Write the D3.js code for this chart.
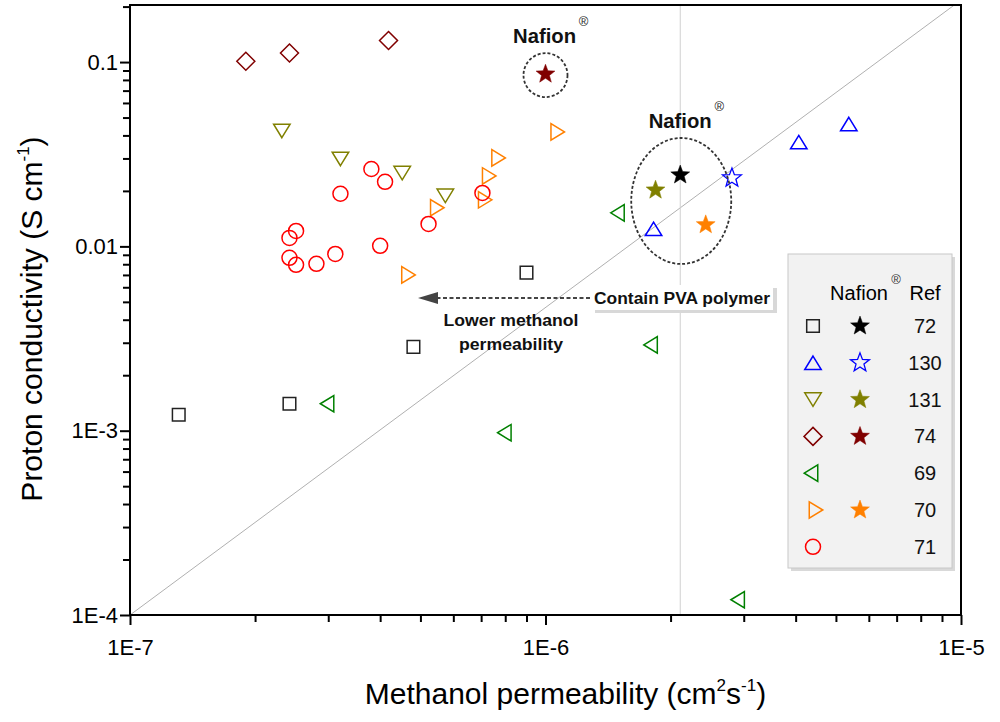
<!DOCTYPE html>
<html>
<head>
<meta charset="utf-8">
<script src="https://cdn.jsdelivr.net/npm/d3@7"></script>
<style>
  body { margin: 0; background: #fff; }
  svg { display: block; }
  text { font-family: "Liberation Sans", Arial, sans-serif; }
</style>
</head>
<body>
<svg id="chart" width="1000" height="722"></svg>
<script>
// ---------- DATA ----------
// [methanol permeability (cm2/s), proton conductivity (S/cm)]
const ref72 = [[1.31e-7, 1.22e-3], [2.42e-7, 1.40e-3], [4.81e-7, 2.85e-3], [9.0e-7, 7.2e-3]];
const ref130 = [[1.82e-6, 0.01245], [4.07e-6, 0.0368], [5.37e-6, 0.0461]];
const ref131 = [[2.32e-7, 0.0423], [3.21e-7, 0.0298], [4.52e-7, 0.0250], [5.74e-7, 0.0188]];
const ref74 = [[1.90e-7, 0.101], [2.42e-7, 0.112], [4.19e-7, 0.131]];
const ref69 = [[2.98e-7, 1.40e-3], [7.96e-7, 9.75e-4], [1.49e-6, 0.0152], [1.79e-6, 2.92e-3], [2.90e-6, 1.21e-4]];
const ref70 = [[4.68e-7, 7.0e-3], [5.49e-7, 0.0162], [7.16e-7, 0.0179], [7.32e-7, 0.0241], [7.71e-7, 0.0302], [1.07e-6, 0.0418]];
const ref71 = [[3.81e-7, 0.0263], [4.11e-7, 0.0224], [3.21e-7, 0.0193], [2.51e-7, 0.01213], [2.42e-7, 0.01112],
               [2.42e-7, 8.67e-3], [2.51e-7, 7.94e-3], [2.81e-7, 8.04e-3], [3.12e-7, 9.1e-3], [4.0e-7, 0.01007],
               [5.23e-7, 0.01324], [7.05e-7, 0.0195]];
// Nafion reference points (stars)
const nafion72 = [2.11e-6, 0.0244];
const nafion130 = [2.81e-6, 0.0235];
const nafion131 = [1.84e-6, 0.0202];
const nafion74 = [1.0e-6, 0.086];
const nafion70 = [2.43e-6, 0.0131];

const legendRefs = ["72", "130", "131", "74", "69", "70", "71"];
const xTickLabels = ["1E-7", "1E-6", "1E-5"];
const yTickLabels = ["1E-4", "1E-3", "0.01", "0.1"];
const xMajor = [1e-7, 1e-6, 1e-5];
const yMajor = [1e-4, 1e-3, 1e-2, 1e-1];
const diagLine = [[1e-7, 1e-4], [1e-5, 0.217]];
const xDomain = [1e-7, 1e-5];
const yDomain = [1e-4, 0.204];

// ---------- SETUP ----------
const svg = d3.select("#chart");
const L = 130, R = 961, T = 5, B = 615;
const x = d3.scaleLog().domain(xDomain).range([L, R]);
const y = d3.scaleLog().domain(yDomain).range([B, T]);

const minorX = [];
[1e-7, 1e-6].forEach(d => { for (let k = 2; k <= 9; k++) minorX.push(d * k); });
const minorY = [];
[1e-4, 1e-3, 1e-2, 1e-1].forEach(d => { for (let k = 2; k <= 9; k++) if (d * k <= yDomain[1]) minorY.push(d * k); });

svg.append("defs").append("clipPath").attr("id", "clip")
  .append("rect").attr("x", L).attr("y", T).attr("width", R - L).attr("height", B - T);

// reference lines
const plot = svg.append("g").attr("clip-path", "url(#clip)");
plot.append("line")
  .attr("x1", x(diagLine[0][0])).attr("y1", y(diagLine[0][1]))
  .attr("x2", x(diagLine[1][0])).attr("y2", y(diagLine[1][1]))
  .attr("stroke", "#b0b0b0").attr("stroke-width", 1);
plot.append("line")
  .attr("x1", x(nafion72[0])).attr("x2", x(nafion72[0]))
  .attr("y1", T).attr("y2", B)
  .attr("stroke", "#d0d0d0").attr("stroke-width", 1);

// ---------- AXES ----------
const axisStyle = g => {
  g.select(".domain").remove();
  g.selectAll(".tick line").attr("stroke", "#000").attr("stroke-width", 2);
};
svg.append("g").attr("transform", `translate(0,${B})`)
  .call(d3.axisBottom(x).tickValues(minorX).tickSize(7).tickFormat(""))
  .call(axisStyle);
svg.append("g").attr("transform", `translate(0,${B})`)
  .call(d3.axisBottom(x).tickValues(xMajor).tickSize(10).tickPadding(14)
    .tickFormat((d, i) => xTickLabels[i]))
  .call(axisStyle)
  .call(g => g.selectAll("text").attr("font-size", 22).attr("fill", "#000"));
svg.append("g").attr("transform", `translate(${L},0)`)
  .call(d3.axisLeft(y).tickValues(minorY).tickSize(7).tickFormat(""))
  .call(axisStyle);
svg.append("g").attr("transform", `translate(${L},0)`)
  .call(d3.axisLeft(y).tickValues(yMajor).tickSize(10).tickPadding(2)
    .tickFormat((d, i) => yTickLabels[i]))
  .call(axisStyle)
  .call(g => g.selectAll("text").attr("font-size", 22).attr("fill", "#000"));

// frame
svg.append("rect").attr("x", L).attr("y", T).attr("width", R - L).attr("height", B - T)
  .attr("fill", "none").attr("stroke", "#000").attr("stroke-width", 2);

// axis titles
const xt = svg.append("text").attr("x", (L + R) / 2 + 20).attr("y", 704).attr("text-anchor", "middle")
  .attr("font-size", 30).attr("fill", "#000");
xt.append("tspan").text("Methanol permeability (cm");
xt.append("tspan").text("2").attr("font-size", 17).attr("dy", -13);
xt.append("tspan").text("s").attr("dy", 13);
xt.append("tspan").text("-1").attr("font-size", 17).attr("dy", -13);
xt.append("tspan").text(")").attr("dy", 13);

const yt = svg.append("text").attr("transform", `translate(42,${(T + B) / 2 + 9}) rotate(-90)`)
  .attr("text-anchor", "middle").attr("font-size", 30).attr("fill", "#000");
yt.append("tspan").text("Proton conductivity (S cm");
yt.append("tspan").text("-1").attr("font-size", 17).attr("dy", -13);
yt.append("tspan").text(")").attr("dy", 13);

// ---------- SYMBOLS ----------
function shapePath(type, s) {
  switch (type) {
    case "square": { const h = s * 0.42; return `M${-h},${-h}H${h}V${h}H${-h}Z`; }
    case "up": { const w = s * 0.55, h = s * 0.45; return `M0,${-h}L${w},${h}L${-w},${h}Z`; }
    case "down": { const w = s * 0.55, h = s * 0.45; return `M0,${h}L${w},${-h}L${-w},${-h}Z`; }
    case "left": { const w = s * 0.55, h = s * 0.45; return `M${-h},0L${h},${-w}L${h},${w}Z`; }
    case "right": { const w = s * 0.55, h = s * 0.45; return `M${h},0L${-h},${-w}L${-h},${w}Z`; }
    case "diamond": { const h = s * 0.6; return `M0,${-h}L${h},0L0,${h}L${-h},0Z`; }
    case "circle": { const r = s * 0.5; return `M${r},0A${r},${r} 0 1,1 ${-r},0A${r},${r} 0 1,1 ${r},0Z`; }
    case "star": {
      const ro = s * 0.62, ri = ro * 0.42; let p = "";
      for (let i = 0; i < 10; i++) {
        const r = i % 2 ? ri : ro, a = -Math.PI / 2 + i * Math.PI / 5;
        p += (i ? "L" : "M") + (r * Math.cos(a)).toFixed(2) + "," + (r * Math.sin(a)).toFixed(2);
      }
      return p + "Z";
    }
  }
}
const SZ = 15;
const series = [
  { data: ref72, shape: "square", color: "#222" },
  { data: ref130, shape: "up", color: "#0000ff" },
  { data: ref131, shape: "down", color: "#808000" },
  { data: ref74, shape: "diamond", color: "#800000" },
  { data: ref69, shape: "left", color: "#008000" },
  { data: ref70, shape: "right", color: "#ff8000" },
  { data: ref71, shape: "circle", color: "#ff0000" }
];
const stars = [
  { d: nafion72, color: "#000", fill: true },
  { d: nafion130, color: "#0000ff", fill: false },
  { d: nafion131, color: "#808000", fill: true },
  { d: nafion74, color: "#800000", fill: true },
  null,
  { d: nafion70, color: "#ff8000", fill: true },
  null
];

const marks = svg.append("g");
series.forEach(s => {
  marks.selectAll(null).data(s.data).join("path")
    .attr("d", shapePath(s.shape, SZ))
    .attr("transform", d => `translate(${x(d[0])},${y(d[1])})`)
    .attr("fill", "none").attr("stroke", s.color).attr("stroke-width", 1.5);
});
stars.forEach(st => {
  if (!st) return;
  marks.append("path").attr("d", shapePath("star", SZ + 1))
    .attr("transform", `translate(${x(st.d[0])},${y(st.d[1])})`)
    .attr("fill", st.fill ? st.color : "none").attr("stroke", st.color).attr("stroke-width", st.fill ? 0.5 : 1.3);
});

// ---------- ANNOTATIONS ----------
const ann = svg.append("g");
// small dashed circle around Nafion (ref 74)
ann.append("ellipse").attr("cx", x(nafion74[0])).attr("cy", y(nafion74[1]) + 1).attr("rx", 22).attr("ry", 22)
  .attr("fill", "none").attr("stroke", "#333").attr("stroke-width", 1.8).attr("stroke-dasharray", "3,2");
// big dashed ellipse around Nafion cluster
ann.append("ellipse").attr("cx", x(nafion72[0]) + 1).attr("cy", y(nafion72[1]) + 26).attr("rx", 50).attr("ry", 63)
  .attr("fill", "none").attr("stroke", "#333").attr("stroke-width", 1.8).attr("stroke-dasharray", "3,2");

function nafionLabel(cx, by) {
  ann.append("text").attr("x", cx).attr("y", by).attr("text-anchor", "middle")
    .attr("font-size", 21).attr("font-weight", "bold").attr("fill", "#111")
    .attr("textLength", 63).attr("lengthAdjust", "spacingAndGlyphs").text("Nafion");
  ann.append("text").attr("x", cx + 39).attr("y", by - 17).attr("text-anchor", "middle")
    .attr("font-size", 13).attr("fill", "#222").text("®");
}
nafionLabel(x(nafion74[0]) - 1, 43);
nafionLabel(x(nafion72[0]), 128);

// PVA arrow
const arrowY = 298;
ann.append("line").attr("x1", 590).attr("x2", 436).attr("y1", arrowY).attr("y2", arrowY)
  .attr("stroke", "#444").attr("stroke-width", 2).attr("stroke-dasharray", "4,2.5");
ann.append("path").attr("d", `M418,${arrowY}L438,${arrowY - 6}L438,${arrowY + 6}Z`).attr("fill", "#444");
// box with shadow
ann.append("rect").attr("x", 595).attr("y", 288).attr("width", 182).attr("height", 25).attr("fill", "#d8d8d8");
ann.append("rect").attr("x", 591).attr("y", 285).attr("width", 182).attr("height", 25).attr("fill", "#fff");
ann.append("text").attr("x", 682).attr("y", 304).attr("text-anchor", "middle")
  .attr("font-size", 16).attr("font-weight", "bold").attr("fill", "#111")
  .attr("textLength", 176).attr("lengthAdjust", "spacingAndGlyphs").text("Contain PVA polymer");
ann.append("text").attr("x", 511).attr("y", 326).attr("text-anchor", "middle")
  .attr("font-size", 16).attr("font-weight", "bold").attr("fill", "#111")
  .attr("textLength", 135).attr("lengthAdjust", "spacingAndGlyphs").text("Lower methanol");
ann.append("text").attr("x", 511).attr("y", 350).attr("text-anchor", "middle")
  .attr("font-size", 16).attr("font-weight", "bold").attr("fill", "#111")
  .attr("textLength", 104).attr("lengthAdjust", "spacingAndGlyphs").text("permeability");

// ---------- LEGEND ----------
const lg = svg.append("g");
lg.append("rect").attr("x", 791).attr("y", 257).attr("width", 164).attr("height", 314).attr("fill", "#d9d9d9");
lg.append("rect").attr("x", 788).attr("y", 254).attr("width", 164).attr("height", 314)
  .attr("fill", "#f2f2f2").attr("stroke", "#c8c8c8").attr("stroke-width", 1);
lg.append("text").attr("x", 859).attr("y", 300).attr("text-anchor", "middle").attr("font-size", 20).text("Nafion");
lg.append("text").attr("x", 896).attr("y", 284).attr("text-anchor", "middle").attr("font-size", 13).attr("fill", "#333").text("®");
lg.append("text").attr("x", 925).attr("y", 300).attr("text-anchor", "middle").attr("font-size", 20).text("Ref");
const rowY = i => 326 + i * 36.8;
series.forEach((s, i) => {
  lg.append("path").attr("d", shapePath(s.shape, SZ))
    .attr("transform", `translate(${s.shape === "right" ? 816 : s.shape === "left" ? 811 : 813},${rowY(i)})`)
    .attr("fill", "none").attr("stroke", s.color).attr("stroke-width", 1.5);
  const st = stars[i];
  if (st) {
    lg.append("path").attr("d", shapePath("star", SZ + 1))
      .attr("transform", `translate(860,${rowY(i)})`)
      .attr("fill", st.fill ? st.color : "none").attr("stroke", st.color).attr("stroke-width", st.fill ? 0.5 : 1.3);
  }
  lg.append("text").attr("x", 925).attr("y", rowY(i) + 7).attr("text-anchor", "middle")
    .attr("font-size", 20).attr("fill", "#111").text(legendRefs[i]);
});
</script>
</body>
</html>
